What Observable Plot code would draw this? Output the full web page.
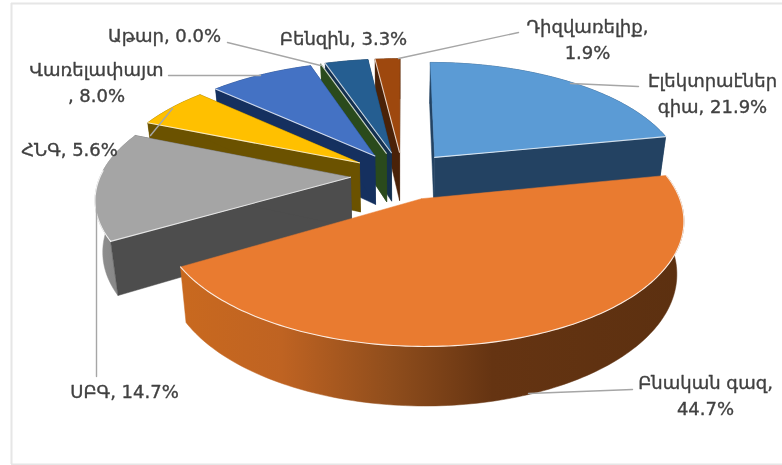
<!DOCTYPE html>
<html>
<head>
<meta charset="utf-8">
<script src="https://cdn.jsdelivr.net/npm/d3@7"></script>
<script src="https://cdn.jsdelivr.net/npm/@observablehq/plot@0.6"></script>
<style>
html,body{margin:0;padding:0;background:#fff}
svg{display:block;filter:blur(.45px)}
</style>
</head>
<body>
<div id="chart"></div>
<script>
const categories = ["Էլեկտրաէներգիա","Բնական գազ","ՍԲԳ","ՀՆԳ","Վառելափայտ","Աթար","Բենզին","Դիզվառելիք"];
const shares = [21.9,44.7,14.7,5.6,8.0,0.0,3.3,1.9];
const sliceLabels = ["Էլեկտրաէներ\nգիա, 21.9%","Բնական գազ,\n44.7%","ՍԲԳ, 14.7%","ՀՆԳ, 5.6%","Վառելափայտ\n, 8.0%","Աթար, 0.0%","Բենզին, 3.3%","Դիզվառելիք,\n1.9%"];
const topColors = ["#5b9bd5","#e97b30","#a5a5a5","#ffc000","#4472c4","#3d6b24","#255e91","#9e480e"];
const sideColors = ["#234262","#7a3f15","#4d4d4d","#6b5200","#15305f","#2a4a1c","#14304f","#4a2208"];

// pie model, in radius units (the x and y scales carry the tilt)
const W = 782, H = 465, cx = 402, cy = 175, Rx = 250, Ry = 115.6;
const persp = 0.161, explode = 0.208, shrink = 0.975;
const pxX = v => (v - cx) / Rx, pxY = v => (cy - v) / Ry;

const total = d3.sum(shares);
let acc = 0;
const slices = shares.map((v, i) => {
  const a0 = acc / total * 2 * Math.PI; acc += v;
  const a1 = acc / total * 2 * Math.PI;
  return {i, a0, a1, mid: (a0 + a1) / 2};
});
function topPt(sl, a, r = 1) {
  const U = explode * Math.sin(sl.mid) + r * Math.sin(a);
  const V = explode * Math.cos(sl.mid) + r * Math.cos(a);
  const s = 1 / (1 + persp * V);
  return {x: U * s, y: V * s, V};
}
const bottomPt = p => ({x: p.x * shrink, y: p.y - (50 - 8 * p.V) / Ry});
const arcPts = (sl, a0, a1) => {
  const n = Math.max(2, Math.ceil(Math.abs(a1 - a0) / 0.02));
  return d3.range(n + 1).map(k => topPt(sl, a0 + (a1 - a0) * k / n));
};

const poly = (pts, fill) => Plot.line(pts, {x: "x", y: "y", fill, stroke: fill, strokeWidth: 0.5, curve: "linear"});
const edge = (pts, opacity = 0.75) => Plot.line(pts, {x: "x", y: "y", stroke: "#fff", strokeOpacity: opacity, strokeWidth: 1.1, curve: "linear"});

function sliceMarks(sl) {
  const apex = topPt(sl, 0, 0), rim = arcPts(sl, sl.a0, sl.a1);
  const rimFill = sl.i === 1 ? "url(#orangeWall)" : sl.i === 2 ? "url(#grayWall)" : sideColors[sl.i];
  const wallAt = p => [apex, p, bottomPt(p), bottomPt(apex), apex];
  const isRightSide = sl.mid < Math.PI;
  const frontEdge = isRightSide ? rim[rim.length - 1] : rim[0];
  const nearRim = rim.filter(p => p.y < 0.05);
  const out = [poly([...rim, ...rim.map(bottomPt).reverse()], rimFill)];
  if (sl.i !== 1) out.push(poly(wallAt(rim[0]), sideColors[sl.i]), poly(wallAt(rim[rim.length - 1]), sideColors[sl.i]));
  if (sl.a1 > sl.a0) out.push(poly([apex, ...rim, apex], topColors[sl.i]));
  if (sl.i !== 1) out.push(edge([apex, frontEdge]));
  if (nearRim.length > 1) out.push(edge(nearRim, 0.85));
  return out;
}

const paintOrder = [7, 6, 5, 4, 3, 2, 0, 1];

const gradients = () => {
  const defs = d3.create("svg:defs");
  const add = (id, stops) => {
    const g = defs.append("linearGradient").attr("id", id).attr("x1", 0).attr("x2", 1).attr("y1", 0).attr("y2", 0);
    stops.forEach(([o, c]) => g.append("stop").attr("offset", o).attr("stop-color", c));
  };
  add("orangeWall", [[0, "#c9691f"], [0.2, "#bf6322"], [0.42, "#8f4d1c"], [0.62, "#653412"], [1, "#5c3010"]]);
  add("grayWall", [[0, "#a8a8a8"], [0.2, "#8c8c8c"], [1, "#808080"]]);
  return defs.node();
};

// leader lines and label anchors, in page pixels
const leaders = [
  [[570,83],[638,86]],
  [[528,393],[632,389]],
  [[96,195],[96,376]],
  [[172,108],[150,135]],
  [[168,75],[260,75]],
  [[227,42],[320,65]],
  [[398,58],[518,32]]
];
const labelAnchors = [[712,91.5],[705,393.5],[124,389],[69,147],[96,80.5],[164,33],[343,36],[587,37.5]];

const marks = [
  gradients,
  Plot.ruleX([pxX(11)], {y1: pxY(3), y2: pxY(464), stroke: "#e6e6e6", strokeWidth: 2}),
  Plot.ruleY([pxY(3)], {x1: pxX(11), x2: pxX(782), stroke: "#e6e6e6", strokeWidth: 2}),
  Plot.ruleY([pxY(464)], {x1: pxX(11), x2: pxX(782), stroke: "#e6e6e6", strokeWidth: 2}),
  ...paintOrder.flatMap(i => sliceMarks(slices[i])),
  ...leaders.map(l => Plot.line(l.map(([a, b]) => ({x: pxX(a), y: pxY(b)})), {x: "x", y: "y", stroke: "#a6a6a6", strokeWidth: 1.4})),
  Plot.text(sliceLabels.map((t, i) => ({t, x: pxX(labelAnchors[i][0]), y: pxY(labelAnchors[i][1])})), {
    x: "x", y: "y", text: "t", fill: "#404040", stroke: "#404040", strokeWidth: 0.35, fontSize: 18, lineHeight: 1.42,
    fontFamily: "'DejaVu Sans', sans-serif", textAnchor: "middle"
  })
];

document.getElementById("chart").append(Plot.plot({
  width: W, height: H, margin: 0,
  style: {background: "#fff"},
  x: {domain: [pxX(0), pxX(W)], range: [0, W], axis: null},
  y: {domain: [pxY(H), pxY(0)], range: [H, 0], axis: null},
  marks
}));
</script>
</body>
</html>
